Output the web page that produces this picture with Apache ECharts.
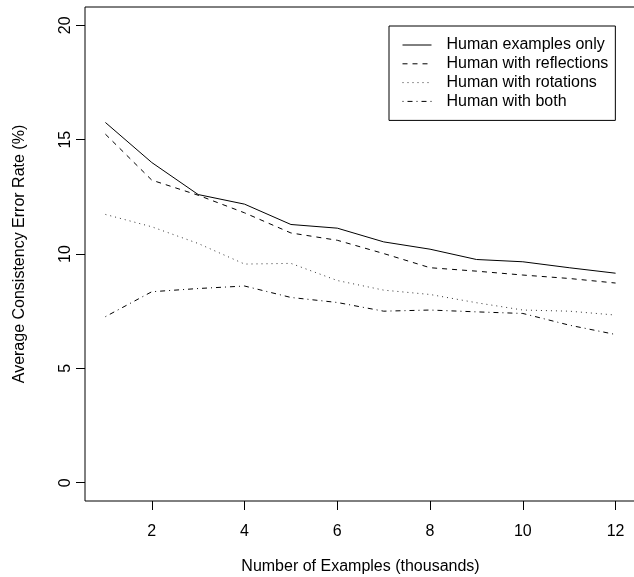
<!DOCTYPE html>
<html>
<head>
<meta charset="utf-8">
<script src="https://cdn.jsdelivr.net/npm/echarts@6/dist/echarts.min.js"></script>
<style>
  html, body { margin: 0; padding: 0; background: #fff; }
  #chart { width: 634px; height: 577px; }
</style>
</head>
<body>
<div id="chart"></div>
<script>
// thousands of examples
const examples = [1, 2, 3, 4, 5, 6, 7, 8, 9, 10, 11, 12];
const humanOnly = [15.75, 14.0, 12.6, 12.18, 11.29, 11.13, 10.53, 10.21, 9.76, 9.66, 9.4, 9.16];
const withReflections = [15.24, 13.23, 12.57, 11.8, 10.92, 10.6, 10.02, 9.4, 9.25, 9.08, 8.93, 8.73];
const withRotations = [11.73, 11.19, 10.46, 9.56, 9.59, 8.84, 8.42, 8.23, 7.87, 7.55, 7.5, 7.33];
const withBoth = [7.26, 8.35, 8.49, 8.6, 8.1, 7.88, 7.5, 7.55, 7.47, 7.4, 6.89, 6.48];
const xTicks = [2, 4, 6, 8, 10, 12];
const yTicks = [0, 5, 10, 15, 20];
const seriesNames = [
  "Human examples only",
  "Human with reflections",
  "Human with rotations",
  "Human with both"
];

const font = "Liberation Sans, Arial, Helvetica, sans-serif";

function pairs(ys) {
  return examples.map((x, i) => [x, ys[i]]);
}

function makeSeries(name, ys, dash, color) {
  return {
    name: name,
    type: "line",
    data: pairs(ys),
    symbol: "none",
    animation: false,
    lineStyle: { color: color, width: 1, type: dash },
    itemStyle: { color: color }
  };
}

var chart = echarts.init(document.getElementById("chart"));

const option = {
  backgroundColor: "#fff",
  animation: false,
  grid: {
    left: 85,
    top: 7,
    bottom: 76,
    right: -2,
    outerBoundsMode: "none",
    containLabel: false,
    show: true,
    borderColor: "#000",
    borderWidth: 1,
    backgroundColor: "transparent"
  },
  legend: {
    orient: "vertical",
    left: 389,
    top: 26,
    width: 226,
    padding: [11, 7, 11, 13],
    borderColor: "#000",
    borderWidth: 1,
    itemWidth: 29,
    itemHeight: 14,
    itemGap: 2.8,
    itemStyle: { opacity: 0 },
    lineStyle: { width: 1 },
    data: seriesNames,
    textStyle: { fontFamily: font, fontSize: 16, color: "#000", padding: [0, 0, 0, 10] }
  },
  xAxis: {
    type: "value",
    min: 0.56,
    max: 12.44,
    splitLine: { show: false },
    axisLine: { show: false, onZero: false },
    axisTick: { show: true, inside: false, length: 9, customValues: xTicks, lineStyle: { color: "#000" } },
    axisLabel: { customValues: xTicks, margin: 23, fontFamily: font, fontSize: 16, color: "#000" },
    name: "Number of Examples (thousands)",
    nameLocation: "middle",
    nameGap: 58,
    nameTextStyle: { fontFamily: font, fontSize: 16, color: "#000" }
  },
  yAxis: {
    type: "value",
    min: -0.8,
    max: 20.8,
    splitLine: { show: false },
    axisLine: { show: false, onZero: false },
    axisTick: { show: true, inside: false, length: 9, customValues: yTicks, lineStyle: { color: "#000" } },
    axisLabel: { customValues: yTicks, rotate: 90, margin: 11, fontFamily: font, fontSize: 16, color: "#000" },
    name: "Average Consistency Error Rate (%)",
    nameLocation: "middle",
    nameGap: 57,
    nameTextStyle: { fontFamily: font, fontSize: 16, color: "#000" }
  },
  series: [
    makeSeries(seriesNames[0], humanOnly, "solid", "#000"),
    makeSeries(seriesNames[1], withReflections, [5, 5], "#000"),
    makeSeries(seriesNames[2], withRotations, [1, 4], "#333"),
    makeSeries(seriesNames[3], withBoth, [1, 4, 5, 4], "#000")
  ]
};

chart.setOption(option);
</script>
</body>
</html>
